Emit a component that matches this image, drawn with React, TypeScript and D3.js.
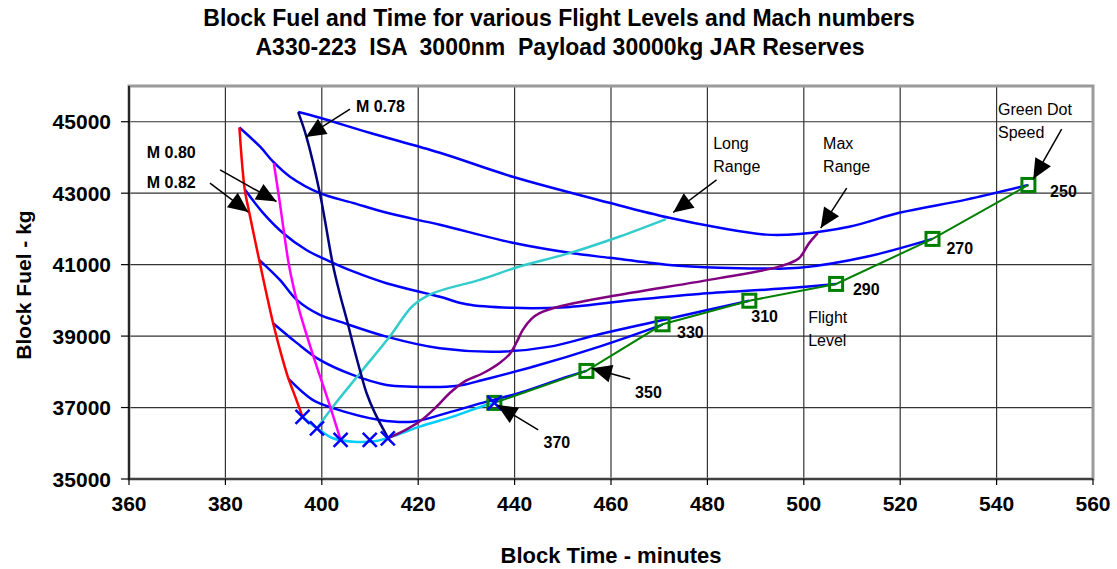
import * as d3 from "d3"

type Pt = [number, number]

// Flight level curves (block time min, block fuel kg), from M0.82 end to green dot
const fl250: Pt[] = [
  [395.1, 45270], [399.6, 45110], [409.9, 44690], [424.5, 44130], [439.6, 43460],
  [459.7, 42730], [472.1, 42310], [482.5, 42030], [492.2, 41840], [499.1, 41860],
  [509.4, 42060], [519.8, 42450], [533.7, 42820], [546.6, 43230],
]
const fl270: Pt[] = [
  [382.9, 44840], [387.2, 44300], [389.9, 43880], [393.4, 43460], [399.6, 43000],
  [406.4, 42730], [413.5, 42450], [424.5, 42115], [439.6, 41610], [451.4, 41330],
  [459.7, 41190], [471.5, 41000], [482.5, 40910], [492.2, 40890], [499.1, 40910],
  [513.0, 41220], [526.7, 41720],
]
const fl290: Pt[] = [
  [384.0, 43110], [387.8, 42450], [392.0, 41880], [396.8, 41410], [401.5, 41100],
  [406.5, 40810], [413.4, 40480], [424.5, 40100], [430.0, 39890], [439.6, 39790],
  [450.7, 39810], [464.5, 40010], [478.3, 40180], [495.5, 40330], [506.7, 40460],
]
const fl310: Pt[] = [
  [387.0, 41134], [391.3, 40574], [394.8, 40014], [399.6, 39594], [403.7, 39406],
  [413.4, 38986], [424.5, 38660], [436.9, 38565], [447.3, 38705], [457.6, 39050],
  [470.1, 39430], [488.7, 39990],
]
const fl330: Pt[] = [
  [389.9, 39360], [394.8, 38810], [399.6, 38333], [406.4, 37913], [413.4, 37633],
  [418.9, 37585], [424.5, 37577], [429.2, 37633], [433.4, 37773], [443.8, 38140],
  [457.6, 38705], [470.7, 39320],
]
const fl350: Pt[] = [
  [393.1, 37800], [398.1, 37213], [402.3, 36985], [412.0, 36653], [418.9, 36605],
  [425.9, 36845], [434.2, 37165], [441.0, 37409], [450.8, 37857], [454.9, 38025],
]
const fl370: Pt[] = [
  [396.0, 36737], [399.0, 36420], [402.3, 36140], [406.5, 36045], [411.3, 36064],
  [415.5, 36232], [420.3, 36465], [427.2, 36745], [434.1, 37073], [435.8, 37130],
]

// Mach number lines
const mach082: Pt[] = [
  [382.9, 44840], [384.0, 43114], [384.9, 42490], [387.0, 41134], [388.5, 40200],
  [389.9, 39360], [391.9, 38333], [393.1, 37800], [394.5, 37300], [396.0, 36737],
]
const mach080: Pt[] = [
  [390.05, 43840], [391.3, 42720], [393.0, 41134], [393.8, 40574], [395.3, 39734],
  [398.5, 38333], [401.5, 37121], [403.9, 36092],
]
const mach078: Pt[] = [
  [395.1, 45270], [396.8, 44585], [399.6, 43000], [402.3, 41000], [403.7, 40200],
  [405.3, 39400], [406.6, 38700], [408.0, 38000], [409.3, 37400], [411.0, 36850],
  [413.7, 36160],
]

const longRange: Pt[] = [
  [399.0, 36420], [402.3, 37025], [407.9, 37960], [414.1, 38986], [418.9, 39850],
  [423.1, 40201], [432.75, 40574], [441.0, 40947], [451.4, 41322], [461.8, 41787],
  [471.4, 42274],
]
const maxRange: Pt[] = [
  [413.7, 36140], [417.5, 36380], [421.0, 36680], [424.0, 37050], [426.5, 37400],
  [429.5, 37720], [433.4, 37960], [436.9, 38250], [439.0, 38500], [440.5, 38850],
  [441.7, 39174], [443.5, 39480], [445.2, 39641], [449.3, 39826], [459.7, 40106],
  [482.5, 40622], [495.0, 40950], [499.0, 41180], [501.1, 41602], [502.9, 41882],
]

// Green dot speed for each flight level
const greenDot: Pt[] = [
  [435.8, 37130], [454.9, 38025], [470.7, 39330], [488.7, 39990],
  [506.7, 40460], [526.7, 41720], [546.6, 43230],
]
const greenDotLevels = ["370", "350", "330", "310", "290", "270", "250"]

// Mach points marked along FL370
const crosses: Pt[] = [
  [396.0, 36737], [399.0, 36420], [403.9, 36092], [409.95, 36092],
  [413.7, 36140], [435.8, 37130],
]

const xTicks = [360, 380, 400, 420, 440, 460, 480, 500, 520, 540, 560]
const yTicks = [35000, 37000, 39000, 41000, 43000, 45000]

const series = [
  { name: "FL250", color: "#0000ff", points: fl250 },
  { name: "FL270", color: "#0000ff", points: fl270 },
  { name: "FL290", color: "#0000ff", points: fl290 },
  { name: "FL310", color: "#0000ff", points: fl310 },
  { name: "FL330", color: "#0000ff", points: fl330 },
  { name: "FL350", color: "#0000ff", points: fl350 },
  { name: "FL370", color: "#00ccff", points: fl370 },
  { name: "Long Range", color: "#33cccc", points: longRange },
  { name: "Max Range", color: "#800080", points: maxRange },
  { name: "M 0.82", color: "#ff0000", points: mach082 },
  { name: "M 0.80", color: "#ff00ff", points: mach080 },
  { name: "M 0.78", color: "#000080", points: mach078 },
]

// label anchors, arrow tails and tips in chart units
const notes: { lines: string[]; at: Pt; bold: boolean; from?: Pt; tip?: Pt }[] = [
  { lines: ["M 0.78"], at: [407.1, 45260], bold: true, from: [405.85, 45355], tip: [396.7, 44571] },
  { lines: ["M 0.80"], at: [363.7, 43991], bold: true, from: [378.9, 43650], tip: [390.6, 42767] },
  { lines: ["M 0.82"], at: [363.7, 43151], bold: true, from: [376.8, 43283], tip: [384.75, 42470] },
  { lines: ["Long", "Range"], at: [481.2, 44243], bold: false, from: [481.9, 43375], tip: [472.9, 42459] },
  { lines: ["Max", "Range"], at: [504.0, 44243], bold: false, from: [508.9, 43142], tip: [503.5, 42022] },
  { lines: ["Green Dot", "Speed"], at: [540.3, 45196], bold: false, from: [553.5, 44795], tip: [547.6, 43395] },
  { lines: ["Flight", "Level"], at: [500.9, 39370], bold: false },
  { lines: ["250"], at: [551.1, 42899], bold: true },
  { lines: ["270"], at: [529.6, 41302], bold: true },
  { lines: ["290"], at: [510.2, 40154], bold: true },
  { lines: ["310"], at: [489.1, 39398], bold: true },
  { lines: ["330"], at: [473.7, 38949], bold: true },
  { lines: ["350"], at: [465.0, 37269], bold: true, from: [464.0, 37801], tip: [456.0, 38100] },
  { lines: ["370"], at: [446.0, 35868], bold: true, from: [444.9, 36372], tip: [436.4, 37073] },
]

const FONT = "'Liberation Sans', Arial, sans-serif"

export default function App() {
  const width = 1117
  const height = 569
  const left = 129
  const right = 1093
  const top = 86
  const bottom = 479

  const x = d3.scaleLinear().domain([360, 560]).range([left, right])
  const y = d3.scaleLinear().domain([35000, 46000]).range([bottom, top])

  const smooth = d3
    .line<Pt>()
    .x((d) => x(d[0]))
    .y((d) => y(d[1]))
    .curve(d3.curveCatmullRom.alpha(0.5))
  const straight = d3
    .line<Pt>()
    .x((d) => x(d[0]))
    .y((d) => y(d[1]))

  const arrowHead = (from: Pt, tip: Pt) => {
    const fx = x(from[0]), fy = y(from[1])
    const tx = x(tip[0]), ty = y(tip[1])
    const len = Math.hypot(tx - fx, ty - fy)
    const ux = (tx - fx) / len, uy = (ty - fy) / len
    const bx = tx - ux * 20, by = ty - uy * 20
    const px = -uy * 9, py = ux * 9
    return `M${tx},${ty}L${bx + px},${by + py}L${bx - px},${by - py}Z`
  }

  return (
    <svg
      width={width}
      height={height}
      style={{ position: "absolute", left: 0, top: 0, fontFamily: FONT }}
    >
      <rect width={width} height={height} fill="#fff" />

      {/* titles */}
      <text x={559} y={26} textAnchor="middle" fontSize={23} fontWeight="bold">
        Block Fuel and Time for various Flight Levels and Mach numbers
      </text>
      <text
        x={560}
        y={55}
        textAnchor="middle"
        fontSize={23}
        fontWeight="bold"
        style={{ whiteSpace: "pre" }}
      >
        {"A330-223  ISA  3000nm  Payload 30000kg JAR Reserves"}
      </text>

      {/* grid */}
      {xTicks.slice(1, -1).map((t) => (
        <line key={"gx" + t} x1={x(t)} x2={x(t)} y1={top} y2={bottom} stroke="#333" strokeWidth={1.2} />
      ))}
      {yTicks.slice(1).map((t) => (
        <line key={"gy" + t} x1={left} x2={right} y1={y(t)} y2={y(t)} stroke="#333" strokeWidth={1.2} />
      ))}
      <rect x={left} y={top} width={right - left} height={bottom - top} fill="none" stroke="#9a9a9a" strokeWidth={3} />
      <line x1={left} x2={left} y1={top} y2={bottom} stroke="#000" strokeWidth={1.5} />
      <line x1={left} x2={right} y1={bottom} y2={bottom} stroke="#222" strokeWidth={1.5} />

      {/* axes */}
      {yTicks.map((t) => (
        <g key={"ty" + t}>
          <line x1={left - 8} x2={left} y1={y(t)} y2={y(t)} stroke="#000" strokeWidth={1.2} />
          <text x={left - 18} y={y(t) + 7.5} textAnchor="end" fontSize={21} fontWeight="bold">
            {t}
          </text>
        </g>
      ))}
      {xTicks.map((t) => (
        <g key={"tx" + t}>
          <line x1={x(t)} x2={x(t)} y1={bottom} y2={bottom + 6} stroke="#000" strokeWidth={1.2} />
          <text x={x(t)} y={511} textAnchor="middle" fontSize={21} fontWeight="bold">
            {t}
          </text>
        </g>
      ))}
      <text x={611} y={563} textAnchor="middle" fontSize={22} fontWeight="bold">
        Block Time - minutes
      </text>
      <text
        transform="translate(31,285) rotate(-90)"
        textAnchor="middle"
        fontSize={21}
        fontWeight="bold"
      >
        Block Fuel - kg
      </text>

      {/* curves */}
      {series.map((s) => (
        <path key={s.name} d={smooth(s.points) ?? ""} fill="none" stroke={s.color} strokeWidth={2.5} />
      ))}

      {/* green dot speed */}
      <path d={straight(greenDot) ?? ""} fill="none" stroke="#008000" strokeWidth={2} />
      {greenDot.map((d, i) => (
        <rect
          key={"sq" + greenDotLevels[i]}
          x={x(d[0]) - 6.5}
          y={y(d[1]) - 6.5}
          width={13}
          height={13}
          fill="none"
          stroke="#008000"
          strokeWidth={3}
        />
      ))}

      {crosses.map((d, i) => (
        <path
          key={"x" + i}
          d={`M${x(d[0]) - 7},${y(d[1]) - 7}L${x(d[0]) + 7},${y(d[1]) + 7}M${x(d[0]) - 7},${y(d[1]) + 7}L${x(d[0]) + 7},${y(d[1]) - 7}`}
          stroke="#0000ff"
          strokeWidth={2.5}
          fill="none"
        />
      ))}

      {/* annotations */}
      {notes.map((n, i) => (
        <g key={"n" + i}>
          {n.from && n.tip && (
            <>
              <line
                x1={x(n.from[0])}
                y1={y(n.from[1])}
                x2={x(n.tip[0])}
                y2={y(n.tip[1])}
                stroke="#000"
                strokeWidth={1.5}
              />
              <path d={arrowHead(n.from, n.tip)} fill="#000" />
            </>
          )}
          {n.lines.map((l, j) => (
            <text
              key={j}
              x={x(n.at[0])}
              y={y(n.at[1]) + j * 23}
              fontSize={16}
              fontWeight={n.bold ? "bold" : "normal"}
            >
              {l}
            </text>
          ))}
        </g>
      ))}
    </svg>
  )
}
